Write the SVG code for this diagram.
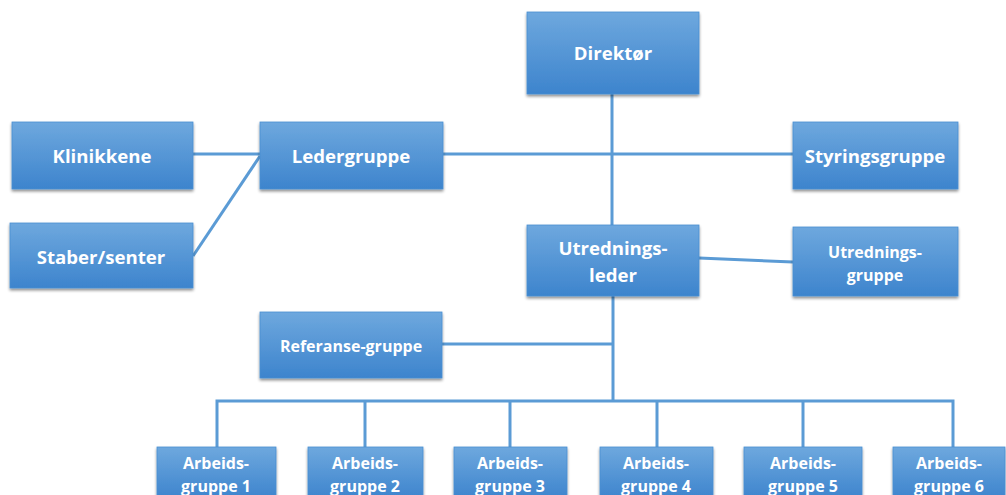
<svg xmlns="http://www.w3.org/2000/svg" width="1006" height="495" viewBox="0 0 1006 495">
  <defs>
    <linearGradient id="boxFill" x1="0" y1="0" x2="0" y2="1">
      <stop offset="0" stop-color="#6ea8de"/>
      <stop offset="1" stop-color="#3d84cd"/>
    </linearGradient>
    <filter id="shadow" x="-10%" y="-10%" width="125%" height="130%">
      <feGaussianBlur in="SourceAlpha" stdDeviation="1.8"/>
      <feOffset dx="0" dy="2" result="blur"/>
      <feComponentTransfer><feFuncA type="linear" slope="0.45"/></feComponentTransfer>
      <feMerge><feMergeNode/><feMergeNode in="SourceGraphic"/></feMerge>
    </filter>
  </defs>
  <style>
    .box { fill: url(#boxFill); stroke: #4a8fd2; stroke-width: 0.8; filter: url(#shadow); }
    .lbl { font-family: "Open Sans", "Liberation Sans", sans-serif; font-weight: bold; fill: #ffffff; text-anchor: middle; }
    .big { font-size: 18.6px; }
    .small { font-size: 16px; }
    .conn { stroke: #5b9bd5; stroke-width: 3; fill: none; }
  </style>
  <rect width="1006" height="495" fill="#ffffff"/>

  <!-- connectors -->
  <g id="connectors" class="conn">
    <line x1="193" y1="154" x2="260" y2="154"/>
    <line x1="193" y1="256" x2="260" y2="156"/>
    <line x1="443" y1="154" x2="793" y2="154"/>
    <line x1="612" y1="94" x2="612" y2="225"/>
    <line x1="699" y1="258" x2="793" y2="262"/>
    <line x1="613" y1="296" x2="613" y2="401"/>
    <line x1="442" y1="344" x2="613" y2="344"/>
    <polyline points="217,447 217,401 953,401 953,447"/>
    <line x1="365" y1="401" x2="365" y2="447"/>
    <line x1="510" y1="401" x2="510" y2="447"/>
    <line x1="657" y1="401" x2="657" y2="447"/>
    <line x1="803" y1="401" x2="803" y2="447"/>
  </g>

  <g id="direktor">
    <rect class="box" x="527" y="12" width="172" height="82"/>
    <text class="lbl big" x="613" y="60">Direktør</text>
  </g>
  <g id="klinikkene">
    <rect class="box" x="12" y="122" width="181" height="67"/>
    <text class="lbl big" x="102" y="163">Klinikkene</text>
  </g>
  <g id="ledergruppe">
    <rect class="box" x="260" y="122" width="183" height="67"/>
    <text class="lbl big" x="351" y="163">Ledergruppe</text>
  </g>
  <g id="styringsgruppe">
    <rect class="box" x="793" y="122" width="165" height="67"/>
    <text class="lbl big" x="875" y="163">Styringsgruppe</text>
  </g>
  <g id="staber">
    <rect class="box" x="10" y="223" width="183" height="65"/>
    <text class="lbl big" x="101" y="264">Staber/senter</text>
  </g>
  <g id="utredningsleder">
    <rect class="box" x="527" y="225" width="172" height="71"/>
    <text class="lbl big" x="613" y="255">Utrednings-</text>
    <text class="lbl big" x="613" y="282">leder</text>
  </g>
  <g id="utredningsgruppe">
    <rect class="box" x="793" y="227" width="165" height="69"/>
    <text class="lbl small" x="875" y="258">Utrednings-</text>
    <text class="lbl small" x="875" y="281">gruppe</text>
  </g>
  <g id="referansegruppe">
    <rect class="box" x="260" y="312" width="182" height="66"/>
    <text class="lbl small" x="351" y="352">Referanse-gruppe</text>
  </g>

  <g id="arbeidsgruppe1">
    <rect class="box" x="157" y="447" width="119" height="52"/>
    <text class="lbl small" x="216" y="469">Arbeids-</text>
    <text class="lbl small" x="216" y="492">gruppe 1</text>
  </g>
  <g id="arbeidsgruppe2">
    <rect class="box" x="308" y="447" width="115" height="52"/>
    <text class="lbl small" x="365" y="469">Arbeids-</text>
    <text class="lbl small" x="365" y="492">gruppe 2</text>
  </g>
  <g id="arbeidsgruppe3">
    <rect class="box" x="454" y="447" width="113" height="52"/>
    <text class="lbl small" x="510" y="469">Arbeids-</text>
    <text class="lbl small" x="510" y="492">gruppe 3</text>
  </g>
  <g id="arbeidsgruppe4">
    <rect class="box" x="600" y="447" width="113" height="52"/>
    <text class="lbl small" x="656" y="469">Arbeids-</text>
    <text class="lbl small" x="656" y="492">gruppe 4</text>
  </g>
  <g id="arbeidsgruppe5">
    <rect class="box" x="744" y="447" width="118" height="52"/>
    <text class="lbl small" x="803" y="469">Arbeids-</text>
    <text class="lbl small" x="803" y="492">gruppe 5</text>
  </g>
  <g id="arbeidsgruppe6">
    <rect class="box" x="893" y="447" width="112" height="52"/>
    <text class="lbl small" x="949" y="469">Arbeids-</text>
    <text class="lbl small" x="949" y="492">gruppe 6</text>
  </g>
</svg>
